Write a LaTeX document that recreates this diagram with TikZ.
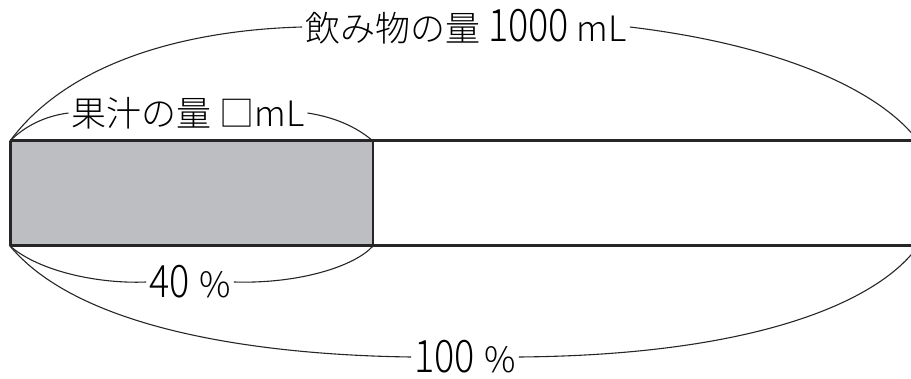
\documentclass[tikz,border=0pt]{standalone}
\usepackage{graphicx}
\usepackage{fontspec}
\setmainfont{Noto Sans CJK JP}[UprightFont=* Light]
\newcommand\tallnum[1]{\scalebox{1.08}[1.28]{#1}}
\begin{document}
\begin{tikzpicture}[x=1pt,y=-1pt,
  lbl/.style={inner sep=0pt, font=\fontsize{35}{37}\selectfont},
  brace/.style={line width=1.1pt, black!85},
  barline/.style={line width=3pt, black!85}]
\useasboundingbox (0,0) rectangle (911,379);
\begin{scope}
\clip (0,0) rectangle (911,379);
% bar
\fill[fill={rgb,255:red,189;green,190;blue,193}] (10,141) rectangle (373,246);
\coordinate (tl) at (10,141);
\coordinate (bl) at (10,246);
\coordinate (tm) at (373,141);
\coordinate (bm) at (373,246);
\coordinate (tr) at (920,141);
\coordinate (br) at (920,246);
\draw[barline] (tl) -- (tr);
\draw[barline] (bl) -- (br);
\draw[barline] (tl) -- (bl);
\draw[line width=1.5pt, black!85] (tm) -- (bm);
% labels
\node[lbl] (top) at (466,27) {飲み物の量 \tallnum{1000} mL};
\node[lbl] (jui) at (188,113) {果汁の量 □mL};
\node[lbl] (p40) at (190,282) {\tallnum{40}\hspace{0.05em} \%};
\node[lbl] (p100) at (465,357) {\tallnum{100}\hspace{0.05em} \%};
% braces
\draw[brace] (tl) .. controls (70,60) and (190,30) .. ([xshift=-3pt]top.west);
\draw[brace] ([xshift=3pt]top.east) .. controls (780,45) and (880,90) .. (918,141);
\draw[brace] (bl) .. controls (80,330) and (260,355) .. ([xshift=-3pt]p100.west);
\draw[brace] ([xshift=3pt]p100.east) .. controls (760,355) and (880,300) .. (918,246);
\draw[brace] (tl) .. controls (25,126) and (45,116) .. ([xshift=-3pt]jui.west);
\draw[brace] ([xshift=3pt]jui.east) .. controls (340,118) and (360,130) .. (tm);
\draw[brace] (bl) .. controls (40,272) and (100,284) .. ([xshift=-3pt]p40.west);
\draw[brace] ([xshift=3pt]p40.east) .. controls (300,284) and (355,266) .. (bm);
\end{scope}
\end{tikzpicture}
\end{document}
